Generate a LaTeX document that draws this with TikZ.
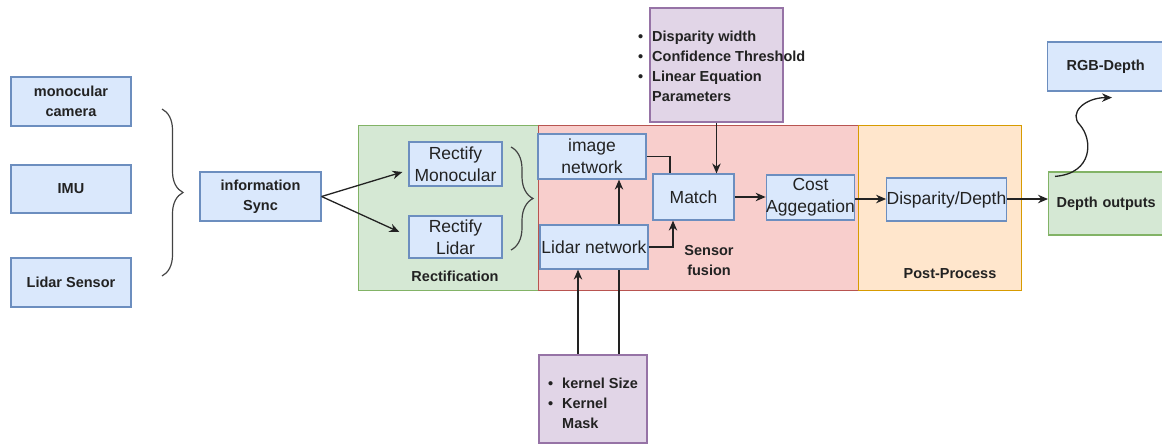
\documentclass[tikz,border=0pt]{standalone}
\usepackage{fontspec}
\setmainfont{Liberation Sans}
\usetikzlibrary{arrows.meta,decorations.pathreplacing,calc}

\definecolor{bfill}{HTML}{DAE8FC}
\definecolor{bdraw}{HTML}{6C8EBF}
\definecolor{gfill}{HTML}{D5E8D4}
\definecolor{gdraw}{HTML}{82B366}
\definecolor{rfill}{HTML}{F8CECC}
\definecolor{rdraw}{HTML}{B85450}
\definecolor{ofill}{HTML}{FFE6CC}
\definecolor{odraw}{HTML}{D79B00}
\definecolor{pfill}{HTML}{E1D5E7}
\definecolor{pdraw}{HTML}{9673A6}
\definecolor{ink}{HTML}{222222}

\tikzset{
  bluebox/.style={draw=bdraw, fill=bfill, line width=1.2pt, inner sep=0pt, align=center, text=ink},
  greenbox/.style={draw=gdraw, fill=gfill, line width=1.2pt, inner sep=0pt, align=center, text=ink},
  purplebox/.style={draw=pdraw, fill=pfill, line width=2.6pt, inner sep=0pt},
  boldlbl/.style={font=\fontsize{14.5}{20}\selectfont\bfseries},
  plainlbl/.style={font=\fontsize{17.5}{22}\selectfont},
  region/.style={line width=1.2pt, inner sep=0pt, anchor=north west},
  arr/.style={draw=ink, line width=1.3pt, -{Stealth[length=10pt,width=8.5pt]}},
  conn/.style={draw=ink, line width=1.3pt},
  bracestyle/.style={draw=ink!85, line width=1.2pt, decorate,
    decoration={brace, amplitude=21pt, aspect=0.5}},
  txt/.style={inner sep=0pt, text=ink, align=center}
}

\begin{document}
\begin{tikzpicture}[x=1pt, y=-1pt]
\useasboundingbox (0,0) rectangle (1162,445);
\clip (0,0) rectangle (1162,445);

% regions
\node[region, fill=gfill, draw=gdraw, minimum width=180pt, minimum height=165pt] (rectreg) at (358,125) {};
\node[region, fill=rfill, draw=rdraw, minimum width=320pt, minimum height=165pt] (fusreg) at (538,125) {};
\node[region, fill=ofill, draw=odraw, minimum width=163pt, minimum height=165pt] (postreg) at (858,125) {};

% inputs
\node[bluebox, boldlbl, minimum width=120pt, minimum height=49pt] (cam) at (71,101.5) {monocular\\camera};
\node[bluebox, boldlbl, minimum width=120pt, minimum height=48pt] (imu) at (71,189) {IMU};
\node[bluebox, boldlbl, minimum width=120pt, minimum height=49pt] (lid) at (71,282.5) {Lidar Sensor};
\node[bluebox, boldlbl, minimum width=121pt, minimum height=49pt] (sync) at (260.5,196.5) {information\\Sync};

% rectification
\node[bluebox, plainlbl, minimum width=93pt, minimum height=44pt] (rmono) at (455.5,164) {Rectify\\Monocular};
\node[bluebox, plainlbl, minimum width=93pt, minimum height=42pt] (rlid) at (455.5,237) {Rectify\\Lidar};
\node[txt, boldlbl] (rectlbl) at (455,276) {Rectification};

% sensor fusion
\node[bluebox, plainlbl, minimum width=108pt, minimum height=45pt] (imgnet) at (592,156.5) {image\\network};
\node[bluebox, plainlbl, minimum width=108pt, minimum height=44pt] (lidnet) at (594,247) {Lidar network};
\node[bluebox, plainlbl, minimum width=81pt, minimum height=46pt] (match) at (693.5,197) {Match};
\node[bluebox, plainlbl, minimum width=81pt, minimum height=45pt] (cost) at (810.5,197.5) {Cost\\Aggegation};
\node[txt, boldlbl] (fuslbl) at (709,261) {Sensor\\fusion};

% post-process
\node[bluebox, plainlbl, minimum width=107pt, minimum height=43pt] (disp) at (946.5,199.5) {Disparity/Depth};
\node[txt, boldlbl] (postlbl) at (950,274) {Post-Process};

% outputs
\node[greenbox, boldlbl, minimum width=122pt, minimum height=63pt, anchor=west, text width=110pt, align=left] (depth) at (1048,203.5) {\hspace*{2pt}Depth outputs};
\node[bluebox, boldlbl, minimum width=122pt, minimum height=49pt, anchor=west, text width=110pt, align=left] (rgb) at (1047,66.5) {\hspace*{13pt}RGB-Depth};

% parameter boxes
\node[purplebox, minimum width=133pt, minimum height=114pt] (params) at (716.5,65) {};
\node[txt, boldlbl, align=left, anchor=west] (paramtxt) at (638,67)
  {\begin{tabular}{@{}l@{}}
   \makebox[14pt][l]{\textbullet}Disparity width\\
   \makebox[14pt][l]{\textbullet}Confidence Threshold\\
   \makebox[14pt][l]{\textbullet}Linear Equation\\
   \hspace*{14pt}Parameters
   \end{tabular}};
\node[purplebox, minimum width=108pt, minimum height=88pt] (kern) at (593,399) {};
\node[txt, boldlbl, align=left, anchor=west] (kerntxt) at (548,404)
  {\begin{tabular}{@{}l@{}}
   \makebox[14pt][l]{\textbullet}kernel Size\\
   \makebox[14pt][l]{\textbullet}Kernel\\
   \hspace*{14pt}Mask
   \end{tabular}};

% braces
\coordinate (b1top) at (162,109);
\coordinate (b1bot) at (162,276);
\draw[bracestyle] (b1top) -- (b1bot);
\coordinate (b2top) at (511,147);
\coordinate (b2bot) at (511,250);
\draw[bracestyle, decoration={amplitude=22pt}] (b2top) -- (b2bot);

% connectors
\draw[arr] (sync.east) -- ([xshift=-6pt,yshift=-8pt]rmono.west);
\draw[arr] (sync.east) -- ([xshift=-9pt,yshift=5pt]rlid.west);
\draw[arr] ([xshift=25pt]lidnet.north) -- ([xshift=25pt]lidnet.north |- imgnet.south);
\draw[conn] (imgnet.east) -| ([xshift=-23.5pt]match.north);
\draw[arr] (lidnet.east) -| ([xshift=-20.5pt]match.south);
\draw[arr] (params.south) -- (params.south |- match.north);
\draw[arr] (match.east) -- (match.east -| cost.west);
\draw[arr] ([yshift=-1.5pt]cost.east) -- ([yshift=-1.5pt]cost.east -| disp.west);
\draw[arr] ([yshift=0.5pt]disp.east) -- ([yshift=0.5pt]disp.east -| depth.west);
\draw[arr] ([xshift=-15pt]kern.north) -- ([xshift=-15pt]kern.north |- lidnet.south);
\draw[conn] ([xshift=26pt]kern.north) -- ([xshift=26pt]kern.north |- lidnet.south);

% curvy arrow
\coordinate (cs) at ([xshift=7pt,yshift=-5pt]depth.north west);
\coordinate (cm) at (1080,125);
\coordinate (ce) at ([xshift=6pt,yshift=-6pt]rgb.south west -| 1106,0);
\draw[arr] (cs) .. controls +(38,-3) and +(13,15) .. (cm) .. controls +(-12,-12) and +(-27,0) .. (ce);
\end{tikzpicture}
\end{document}
